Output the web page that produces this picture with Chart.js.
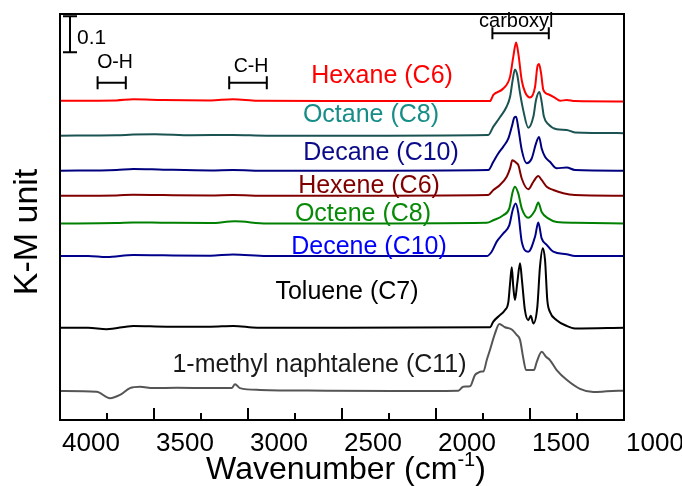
<!DOCTYPE html>
<html>
<head>
<meta charset="utf-8">
<script src="https://cdn.jsdelivr.net/npm/chart.js@4.4.1/dist/chart.umd.min.js"></script>
<style>
  html, body { margin: 0; padding: 0; background: #fff; }
</style>
</head>
<body>
<canvas id="myChart" width="682" height="486"></canvas>
<script>
'use strict';

// spectra, wavenumber (cm-1) and K-M value above each baseline
let seriesNames = ['Hexane (C6)', 'Octane (C8)', 'Decane (C10)', 'Hexene (C6)', 'Octene (C8)', 'Decene (C10)', 'Toluene (C7)', '1-methyl naphtalene (C11)'];
let offsets = [0.886, 0.790, 0.6925, 0.623, 0.546, 0.4556, 0.2564, 0.0806];

let hexaneWn = [4000, 3700, 3610, 3450, 3200, 3080, 2950, 2500, 1713, 1695, 1642, 1606, 1589, 1574, 1562, 1544, 1527, 1500, 1473, 1461, 1452, 1441, 1429, 1403, 1367, 1340, 1305, 1261, 1000];
let hexaneKM = [0.001, 0.002, 0.005, 0.003, 0.002, 0.005, 0.001, 0, 0, 0.017, 0.035, 0.068, 0.123, 0.163, 0.132, 0.058, 0.026, 0.010, 0.040, 0.095, 0.103, 0.077, 0.031, 0.019, 0.009, 0.001, 0.003, 0, -0.001];

let octaneWn = [4000, 3700, 3610, 3495, 3300, 3080, 2900, 2500, 1722, 1695, 1660, 1624, 1606, 1592, 1580, 1568, 1553, 1536, 1509, 1482, 1468, 1450, 1438, 1426, 1403, 1358, 1305, 1261, 1000];
let octaneKM = [0, 0.001, 0.003, 0.004, 0.001, 0.002, 0, 0, 0.002, 0.025, 0.051, 0.081, 0.108, 0.155, 0.184, 0.169, 0.118, 0.071, 0.022, 0.053, 0.099, 0.121, 0.094, 0.053, 0.032, 0.018, 0.016, 0.009, 0.007];

let decaneWn = [4000, 3700, 3610, 3450, 3200, 3080, 2900, 2500, 1722, 1695, 1669, 1642, 1615, 1597, 1583, 1574, 1562, 1544, 1518, 1491, 1468, 1452, 1438, 1420, 1394, 1358, 1305, 1261, 1000];
let decaneKM = [0, 0.002, 0.005, 0.003, 0.001, 0.002, 0, 0, 0.002, 0.025, 0.048, 0.067, 0.090, 0.122, 0.148, 0.150, 0.118, 0.058, 0.021, 0.034, 0.076, 0.094, 0.062, 0.039, 0.025, 0.007, 0.009, 0.002, 0];

let hexeneWn = [4000, 3700, 3610, 3450, 3200, 3080, 2900, 2500, 1722, 1695, 1660, 1624, 1606, 1594, 1574, 1562, 1544, 1509, 1482, 1456, 1438, 1411, 1376, 1323, 1261, 1000];
let hexeneKM = [0, 0.001, 0.003, 0.002, 0.001, 0.002, 0, 0, 0.002, 0.016, 0.030, 0.053, 0.076, 0.099, 0.092, 0.085, 0.048, 0.018, 0.039, 0.055, 0.044, 0.025, 0.016, 0.007, 0.002, 0];

let octeneWn = [4000, 3700, 3610, 3450, 3200, 3070, 2900, 2500, 1730, 1695, 1642, 1610, 1592, 1580, 1562, 1544, 1509, 1473, 1456, 1438, 1403, 1358, 1261, 1000];
let octeneKM = [0, 0.001, 0.003, 0.002, 0.001, 0.006, 0, 0, 0.002, 0.009, 0.023, 0.042, 0.088, 0.102, 0.083, 0.042, 0.016, 0.037, 0.058, 0.032, 0.014, 0.004, 0.002, 0];

let deceneWn = [4000, 3850, 3752, 3610, 3450, 3200, 3080, 2900, 2500, 1730, 1704, 1677, 1642, 1610, 1592, 1576, 1562, 1544, 1509, 1473, 1456, 1438, 1411, 1376, 1305, 1261, 1000];
let deceneKM = [0, 0, -0.003, 0.003, 0.002, 0.001, 0.004, 0, 0, 0, 0.012, 0.040, 0.063, 0.086, 0.128, 0.146, 0.119, 0.040, 0.012, 0.054, 0.093, 0.049, 0.031, 0.012, 0.005, 0, 0];

let tolueneWn = [4000, 3850, 3752, 3610, 3432, 3200, 3078, 2950, 2500, 1713, 1695, 1660, 1633, 1615, 1606, 1597, 1589, 1580, 1568, 1553, 1543, 1527, 1509, 1496, 1482, 1461, 1447, 1432, 1420, 1408, 1394, 1358, 1305, 1261, 1000];
let tolueneKM = [0, 0, -0.004, 0.005, 0.003, 0.003, 0.005, 0, 0, 0.001, 0.017, 0.035, 0.049, 0.072, 0.123, 0.168, 0.114, 0.077, 0.123, 0.179, 0.133, 0.049, 0.021, 0.033, 0.012, 0.058, 0.169, 0.221, 0.188, 0.077, 0.044, 0.021, 0.005, -0.002, 0];

let naphWn = [4000, 3805, 3734, 3681, 3628, 3574, 3504, 3379, 3202, 3087, 3069, 3043, 2936, 2581, 2229, 1881, 1855, 1819, 1793, 1775, 1757, 1748, 1730, 1713, 1686, 1663, 1633, 1597, 1571, 1553, 1536, 1521, 1491, 1479, 1464, 1438, 1415, 1394, 1358, 1305, 1234, 1163, 1092, 1000];
let naphKM = [0, -0.002, -0.020, -0.011, 0.008, 0.012, 0.008, 0.009, 0.008, 0.008, 0.019, 0.008, 0.003, 0.001, 0, 0.001, 0.012, 0.013, 0.044, 0.051, 0.054, 0.054, 0.086, 0.114, 0.160, 0.186, 0.177, 0.171, 0.156, 0.142, 0.092, 0.058, 0.058, 0.058, 0.081, 0.109, 0.095, 0.086, 0.058, 0.031, 0.006, -0.003, -0.001, 0.001];

let tickValues = [4000, 3500, 3000, 2500, 2000, 1500, 1000];

let wnSets = [hexaneWn, octaneWn, decaneWn, hexeneWn, octeneWn, deceneWn, tolueneWn, naphWn];
let kmSets = [hexaneKM, octaneKM, decaneKM, hexeneKM, octeneKM, deceneKM, tolueneKM, naphKM];

let lineColors = ['#ff0000', '#1b5352', '#00007f', '#800000', '#008000', '#00008b', '#000000', '#555555'];
let labelColors = ['#ff0000', '#178d88', '#0a0a8a', '#800000', '#078a07', '#0000ff', '#000000', '#1a1a1a'];
// label centre x and baseline y, in canvas pixels
let labelPos = [[382, 83], [371, 122], [381, 160], [369, 193], [363, 220.5], [369, 253.5], [347, 299], [319.5, 371.5]];

let fontFam = '"Liberation Sans", Arial, sans-serif';

let datasets = [];
for (let i = 0; i < seriesNames.length; i++) {
    let pts = [];
    for (let j = 0; j < wnSets[i].length; j++) {
        pts.push({ x: wnSets[i][j], y: kmSets[i][j] + offsets[i] });
    }
    datasets.push({
        label: seriesNames[i],
        data: pts,
        borderColor: lineColors[i],
        borderWidth: 2,
        pointRadius: 0,
        fill: false,
        cubicInterpolationMode: 'monotone'
    });
}

function bracket(ctx, x1, x2, y, h) {
    ctx.beginPath();
    ctx.moveTo(x1, y); ctx.lineTo(x2, y);
    ctx.moveTo(x1, y - h); ctx.lineTo(x1, y + h);
    ctx.moveTo(x2, y - h); ctx.lineTo(x2, y + h);
    ctx.stroke();
}

let extras = {
    id: 'extras',
    afterDraw(chart) {
        let ctx = chart.ctx;
        let area = chart.chartArea;
        let xs = chart.scales.x;
        let ys = chart.scales.y;
        ctx.save();
        ctx.strokeStyle = '#000';
        ctx.fillStyle = '#000';

        // frame
        ctx.lineWidth = 2;
        ctx.strokeRect(area.left, area.top, area.right - area.left, area.bottom - area.top);

        // inward ticks
        for (let t of xs.ticks) {
            let px = xs.getPixelForValue(t.value);
            let len = (t.value % 500 === 0) ? 12 : 7;
            ctx.beginPath();
            ctx.moveTo(px, area.bottom);
            ctx.lineTo(px, area.bottom - len);
            ctx.stroke();
        }

        // scale bar 0.1
        let sx = 70;
        let sTop = ys.getPixelForValue(1.122);
        let sBot = ys.getPixelForValue(1.022);
        ctx.beginPath();
        ctx.moveTo(sx, sTop); ctx.lineTo(sx, sBot);
        ctx.moveTo(sx - 7, sTop); ctx.lineTo(sx + 7, sTop);
        ctx.moveTo(sx - 7, sBot); ctx.lineTo(sx + 7, sBot);
        ctx.stroke();
        ctx.font = '21px ' + fontFam;
        ctx.textAlign = 'left';
        ctx.textBaseline = 'alphabetic';
        ctx.fillText('0.1', 77, 43.5);

        // band brackets
        ctx.lineWidth = 2;
        bracket(ctx, xs.getPixelForValue(3800), xs.getPixelForValue(3650), 82.7, 6.5);
        bracket(ctx, xs.getPixelForValue(3100), xs.getPixelForValue(2900), 82.7, 6.5);
        bracket(ctx, xs.getPixelForValue(1700), xs.getPixelForValue(1400), 33.3, 6);
        ctx.textAlign = 'center';
        ctx.font = '19.5px ' + fontFam;
        ctx.fillText('O-H', 115, 68.3);
        ctx.fillText('C-H', 251, 71.7);
        ctx.font = '20px ' + fontFam;
        ctx.fillText('carboxyl', 516.3, 26.7);

        // series labels
        ctx.font = '25px ' + fontFam;
        for (let i = 0; i < seriesNames.length; i++) {
            ctx.fillStyle = labelColors[i];
            ctx.fillText(seriesNames[i], labelPos[i][0], labelPos[i][1]);
        }

        // x title with superscript
        ctx.fillStyle = '#000';
        ctx.textAlign = 'left';
        let bigF = '32px ' + fontFam;
        let supF = '20px ' + fontFam;
        ctx.font = bigF;
        let w1 = ctx.measureText('Wavenumber (cm').width;
        let w3 = ctx.measureText(')').width;
        ctx.font = supF;
        let w2 = ctx.measureText('-1').width;
        let start = 346 - (w1 + w2 + w3) / 2;
        ctx.font = bigF;
        ctx.fillText('Wavenumber (cm', start, 479);
        ctx.font = supF;
        ctx.fillText('-1', start + w1, 466);
        ctx.font = bigF;
        ctx.fillText(')', start + w1 + w2, 479);

        // y title
        ctx.translate(37, 232);
        ctx.rotate(-Math.PI / 2);
        ctx.textAlign = 'center';
        ctx.font = '34px ' + fontFam;
        ctx.fillText('K-M unit', 0, 0);
        ctx.restore();
    }
};

let ctx = document.getElementById('myChart').getContext('2d');
let myChart = new Chart(ctx, {
    type: 'line',
    data: { datasets: datasets },
    plugins: [extras],
    options: {
        responsive: false,
        animation: false,
        layout: { padding: { left: 60, top: 14, right: 58, bottom: 0 } },
        plugins: { legend: { display: false }, tooltip: { enabled: false } },
        scales: {
            x: {
                type: 'linear',
                min: 1000,
                max: 4000,
                reverse: true,
                grid: { display: false },
                border: { display: false },
                afterFit: function (scale) { scale.height = 66; },
                ticks: {
                    stepSize: 250,
                    autoSkip: false,
                    maxRotation: 0,
                    minRotation: 0,
                    labelOffset: 31,
                    padding: 0,
                    color: '#000',
                    font: { family: fontFam, size: 26 },
                    callback: function (value) {
                        return tickValues.includes(value) ? String(value) : '';
                    }
                }
            },
            y: {
                type: 'linear',
                display: false,
                min: 0,
                max: 1.128
            }
        }
    }
});
</script>
</body>
</html>
